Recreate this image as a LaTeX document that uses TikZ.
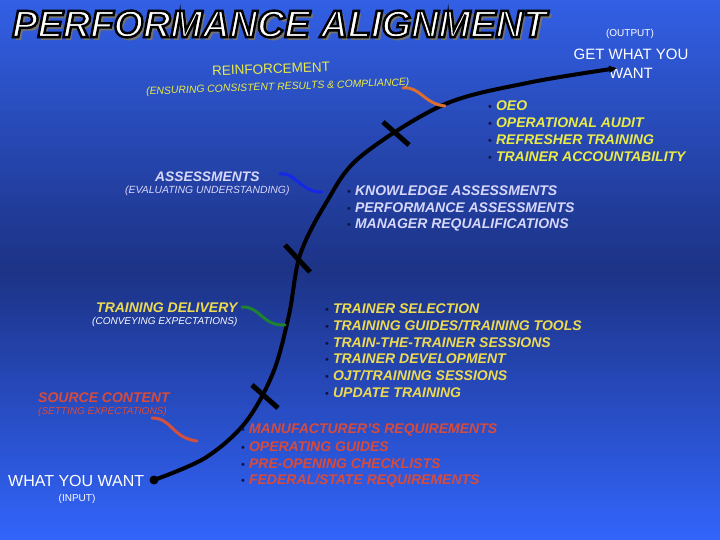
\documentclass[tikz,border=0pt]{standalone}
\usepackage{fontspec}
\setmainfont{Liberation Sans}
\usetikzlibrary{arrows.meta}
\definecolor{bgtop}{RGB}{50,95,228}
\definecolor{bgmid}{RGB}{28,50,132}
\definecolor{bgbot}{RGB}{50,100,250}
\definecolor{yelA}{RGB}{235,235,70}
\definecolor{yelB}{RGB}{238,218,80}
\definecolor{lav}{RGB}{215,215,250}
\definecolor{redT}{RGB}{215,75,58}
\definecolor{navy}{RGB}{15,20,70}
\definecolor{sqO}{RGB}{220,110,50}
\definecolor{sqB}{RGB}{20,40,230}
\definecolor{sqG}{RGB}{30,130,50}
\definecolor{sqR}{RGB}{210,80,60}
\newcommand{\bl}[1]{{\color{navy}\normalfont\fontsize{11}{11}\selectfont\textbullet}\hspace{4pt}#1}
\newcommand{\outlinedtext}[1]{\special{pdf:literal direct 2 Tr 2.4 w 0 0 0 RG}#1\special{pdf:literal direct 0 Tr}}
\begin{document}
\begin{tikzpicture}[x=1pt,y=-1pt,
  every node/.style={inner sep=0pt},
  ttl/.style={anchor=west,font=\bfseries\itshape\fontsize{38}{38}\selectfont},
  head/.style={anchor=west,font=\bfseries\itshape\fontsize{14}{14}\selectfont},
  sub/.style={anchor=west,font=\itshape\fontsize{10}{10}\selectfont},
  item/.style={anchor=west,font=\bfseries\itshape\fontsize{14}{14}\selectfont},
  plain/.style={font=\fontsize{15}{15}\selectfont,text=white},
  squig/.style={line width=3pt,line cap=round},
  crossmark/.style={line width=5pt,black}]
\useasboundingbox (0,0) rectangle (720,540);
% background gradient as strips
\begin{scope}
\clip (0,0) rectangle (720,540);
\foreach \i in {0,...,53}{
  \pgfmathsetmacro{\yy}{\i*5}
  \pgfmathtruncatemacro{\pp}{round(100*\i/54)}
  \colorlet{stripc}{bgmid!\pp!bgtop}
  \fill[stripc] (0,\yy) rectangle (720,\yy+5.6);
}
\foreach \i in {0,...,53}{
  \pgfmathsetmacro{\yy}{270+\i*5}
  \pgfmathtruncatemacro{\pp}{round(100*(\i+1)/54)}
  \colorlet{stripc}{bgbot!\pp!bgmid}
  \fill[stripc] (0,\yy) rectangle (720,\yy+5.6);
}
\end{scope}
% title
\node[ttl,text=black!55] (tshadow) at (15,27) {PERFORMANCE ALIGNMENT};
\node[ttl,text=white] (title) at (12,24) {\outlinedtext{PERFORMANCE ALIGNMENT}};
% output
\node[font=\fontsize{10}{10}\selectfont,text=white] (outlbl) at (630,34) {(OUTPUT)};
\node[plain] (get1) at (631,54) {GET WHAT YOU};
\node[plain] (get2) at (631,73) {WANT};
% main curve
\coordinate (start) at (154,480);
\coordinate (goal) at (618,68);
\draw[line width=4pt,-{Latex[length=9pt,width=8pt]}] plot[smooth,tension=0.55] coordinates {(154,480) (205,458) (245,423) (273,373) (289,315) (300,255) (326,203) (360,157) (443,105) (527,83) (618,68)};
\fill (start) circle (4.5pt);
% crosses
\draw[crossmark] (252,385) -- (278,408);
\draw[crossmark] (285,245) -- (310,272);
\draw[crossmark] (383,122) -- (409,145);
% squiggles
\draw[squig,sqO] (403,88) .. controls (420,86) and (424,104) .. (445,106);
\draw[squig,sqB] (280,174) .. controls (296,172) and (300,192) .. (322,192);
\draw[squig,sqG] (242,307) .. controls (260,306) and (262,326) .. (285,325);
\draw[squig,sqR] (152,418) .. controls (172,418) and (172,438) .. (197,441);
% reinforcement
\node[anchor=west,font=\fontsize{13.5}{13.5}\selectfont,text=yelA,rotate=2] (reinf) at (212,71) {REINFORCEMENT};
\node[anchor=west,font=\itshape\fontsize{10.4}{10.4}\selectfont,text=yelA,rotate=2] (reinfs) at (146,92) {(ENSURING CONSISTENT RESULTS \& COMPLIANCE)};
\node[item,text=yelA] (r1) at (488,106) {\bl{OEO}};
\node[item,text=yelA] (r2) at (488,123) {\bl{OPERATIONAL AUDIT}};
\node[item,text=yelA] (r3) at (488,140) {\bl{REFRESHER TRAINING}};
\node[item,text=yelA] (r4) at (488,157) {\bl{TRAINER ACCOUNTABILITY}};
% assessments
\node[anchor=west,font=\bfseries\itshape\fontsize{13.8}{13.8}\selectfont,text=lav] (assess) at (155,176.5) {ASSESSMENTS};
\node[sub,font=\itshape\fontsize{10.4}{10.4}\selectfont,text=lav] (assesss) at (125,190.5) {(EVALUATING UNDERSTANDING)};
\node[item,text=lav] (a1) at (347,191) {\bl{KNOWLEDGE ASSESSMENTS}};
\node[item,text=lav] (a2) at (347,208) {\bl{PERFORMANCE ASSESSMENTS}};
\node[item,text=lav] (a3) at (347,225) {\bl{MANAGER REQUALIFICATIONS}};
% training delivery
\node[head,text=yelB] (deliv) at (96,308) {TRAINING DELIVERY};
\node[sub,text=white!90!lav] (delivs) at (92,322) {(CONVEYING EXPECTATIONS)};
\node[item,text=yelB] (t1) at (325,309) {\bl{TRAINER SELECTION}};
\node[item,text=yelB] (t2) at (325,326) {\bl{TRAINING GUIDES/TRAINING TOOLS}};
\node[item,text=yelB] (t3) at (325,343) {\bl{TRAIN-THE-TRAINER SESSIONS}};
\node[item,text=yelB] (t4) at (325,359) {\bl{TRAINER DEVELOPMENT}};
\node[item,text=yelB] (t5) at (325,376) {\bl{OJT/TRAINING SESSIONS}};
\node[item,text=yelB] (t6) at (325,393) {\bl{UPDATE TRAINING}};
% source content
\node[head,text=redT] (src) at (38,398) {SOURCE CONTENT};
\node[sub,text=redT] (srcs) at (38,412) {(SETTING EXPECTATIONS)};
\node[item,text=redT] (s1) at (241,430) {\bl{MANUFACTURER'S REQUIREMENTS}};
\node[item,text=redT] (s2) at (241,447) {\bl{OPERATING GUIDES}};
\node[item,text=redT] (s3) at (241,464) {\bl{PRE-OPENING CHECKLISTS}};
\node[item,text=redT] (s4) at (241,481) {\bl{FEDERAL/STATE REQUIREMENTS}};
% input
\node[plain,anchor=west,font=\fontsize{16}{16}\selectfont] (want) at (8,481) {WHAT YOU WANT};
\node[font=\fontsize{10}{10}\selectfont,text=white] (inlbl) at (77,499) {(INPUT)};
\end{tikzpicture}
\end{document}
